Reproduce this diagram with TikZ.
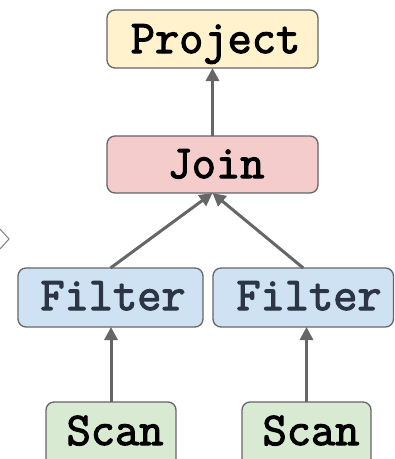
\documentclass[tikz,border=0pt]{standalone}
\usepackage{fontspec}
\newfontfamily\opfont{Latin Modern Mono}[FakeBold=2.5]
\usetikzlibrary{arrows.meta}

\definecolor{boxline}{HTML}{666666}
\definecolor{arrowgray}{HTML}{666666}
\definecolor{projfill}{HTML}{FFF2CC}
\definecolor{joinfill}{HTML}{F4CCCC}
\definecolor{filterfill}{HTML}{CFE2F3}
\definecolor{scanfill}{HTML}{D9EAD3}
\definecolor{filtertext}{HTML}{2B3545}
\definecolor{chevgray}{HTML}{808080}

\begin{document}
\begin{tikzpicture}[x=1pt,y=-1pt,
  opbox/.style={draw=boxline, line width=1.3pt, rounded corners=8pt,
                inner sep=0pt, outer sep=0pt},
  oplabel/.style={anchor=base, inner sep=0pt,
                  font=\opfont\fontsize{47}{47}\selectfont},
  flow/.style={draw=arrowgray, line width=3pt,
               -{Triangle[length=13pt,width=13pt]}}]

\useasboundingbox (0,0) rectangle (395,459);
\clip (0,0) rectangle (395,459);

% operator boxes
\node[opbox, fill=projfill, minimum width=211pt, minimum height=58pt]
  (proj) at (212.5,39) {};
\node[opbox, fill=joinfill, minimum width=211pt, minimum height=57pt]
  (join) at (212.5,164.5) {};
\node[opbox, fill=filterfill, minimum width=185pt, minimum height=59pt]
  (fl) at (110.5,297.5) {};
\node[opbox, fill=filterfill, minimum width=180.5pt, minimum height=59pt]
  (fr) at (303.25,297.5) {};
\node[opbox, fill=scanfill, minimum width=130pt, minimum height=70pt]
  (sl) at (111,437) {};
\node[opbox, fill=scanfill, minimum width=129pt, minimum height=70pt]
  (sr) at (306.5,437) {};

% operator names
\node[oplabel] (projtxt) at (215.5,53) {Project};
\node[oplabel] (jointxt) at (216,178) {Join};
\node[oplabel, text=filtertext] (fltxt) at (113,310) {Filter};
\node[oplabel, text=filtertext] (frtxt) at (309,310) {Filter};
\node[oplabel] (sltxt) at (115,445) {Scan};
\node[oplabel] (srtxt) at (311,445) {Scan};

% data flow
\draw[flow] (join.north) -- (proj.south);
\draw[flow] (fl.north) -- (join.south);
\draw[flow] (fr.north) -- (join.south);
\draw[flow] (sl.north) -- (sl.north |- fl.south);
\draw[flow] (sr.north) -- (sr.north |- fr.south);

% chevron at the left edge
\draw[chevgray, line width=1pt] (0,229) -- (9,239) -- (0,249);
\end{tikzpicture}
\end{document}
